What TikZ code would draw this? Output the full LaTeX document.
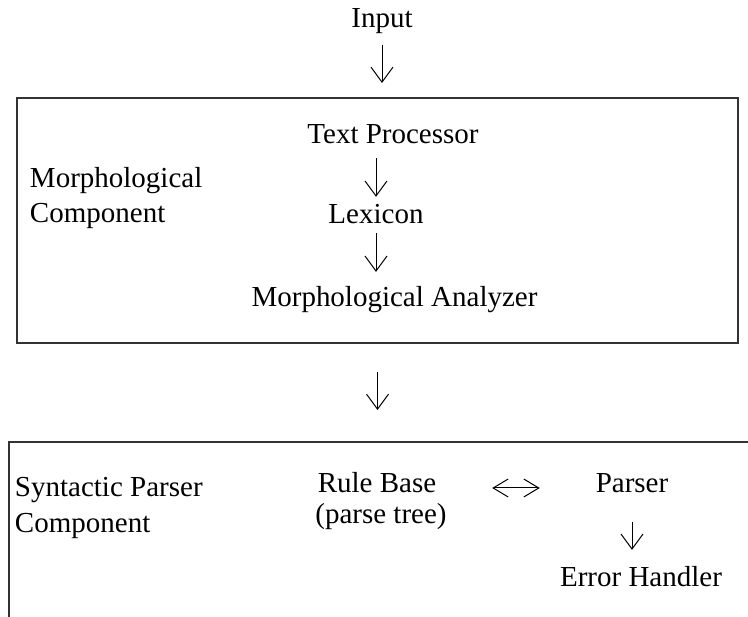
\documentclass[tikz,border=0pt]{standalone}
\usepackage{fontspec}
\setmainfont{Liberation Serif}
\usetikzlibrary{arrows.meta}
\begin{document}
\begin{tikzpicture}[x=1pt,y=-1pt,
  lbl/.style={inner sep=0pt, outer sep=0pt, font=\fontsize{29}{34}\selectfont},
  boxline/.style={draw=black!80, line width=2pt},
  arr/.style={line width=1pt, -{Straight Barb[length=15pt,width=22pt]}},
  darr/.style={line width=1pt, {Straight Barb[length=15pt,width=18pt]}-{Straight Barb[length=15pt,width=18pt]}}]
\useasboundingbox (0,0) rectangle (748,617);
% top input
\node[lbl, anchor=base] (input) at (382,28) {Input};
% morphological component box
\node[boxline, minimum width=721pt, minimum height=245pt, inner sep=0pt] (box1) at (377.5,220.5) {};
\node[lbl, anchor=base west] (mc1) at (30,188) {Morphological};
\node[lbl, anchor=base west] (mc2) at (30,223) {Component};
\node[lbl, anchor=base] (tp) at (393,144) {Text Processor};
\node[lbl, anchor=base] (lex) at (376,224) {Lexicon};
\node[lbl, anchor=base] (ma) at (394.5,307) {Morphological Analyzer};
% syntactic parser component (open box)
\coordinate (b2tl) at (9,442);
\coordinate (b2tr) at (748,442);
\coordinate (b2bl) at (9,617);
\coordinate (b2top) at (377.5,442);
\draw[boxline, line cap=rect] (b2tr) -- (b2tl) -- (b2bl);
\node[lbl, anchor=base west] (sp1) at (15,497) {Syntactic Parser};
\node[lbl, anchor=base west] (sp2) at (15,533) {Component};
\node[lbl, anchor=base] (rb) at (377,493) {Rule Base};
\node[lbl, anchor=base] (pt) at (381,524) {(parse tree)};
\node[lbl, anchor=base] (parser) at (632,493) {Parser};
\node[lbl, anchor=base] (eh) at (641,587) {Error Handler};
% connectors
\draw[arr, shorten <=10.5pt, shorten >=14pt] (input.south) -- (input.south |- box1.north);
\draw[arr, shorten <=14pt, shorten >=8pt] (tp.south -| lex.north) -- (lex.north);
\draw[arr, shorten <=9pt, shorten >=15pt] (lex.south) -- (lex.south |- ma.north);
\draw[arr, shorten <=28pt, shorten >=32pt] (box1.south) -- (b2top);
\draw[darr, shorten <=56pt, shorten >=56pt] ([yshift=5pt]rb.base east) -- ([yshift=5pt]parser.base west);
\draw[arr, shorten <=29pt, shorten >=17pt] (parser.south) -- (parser.south |- eh.north);
\end{tikzpicture}
\end{document}
